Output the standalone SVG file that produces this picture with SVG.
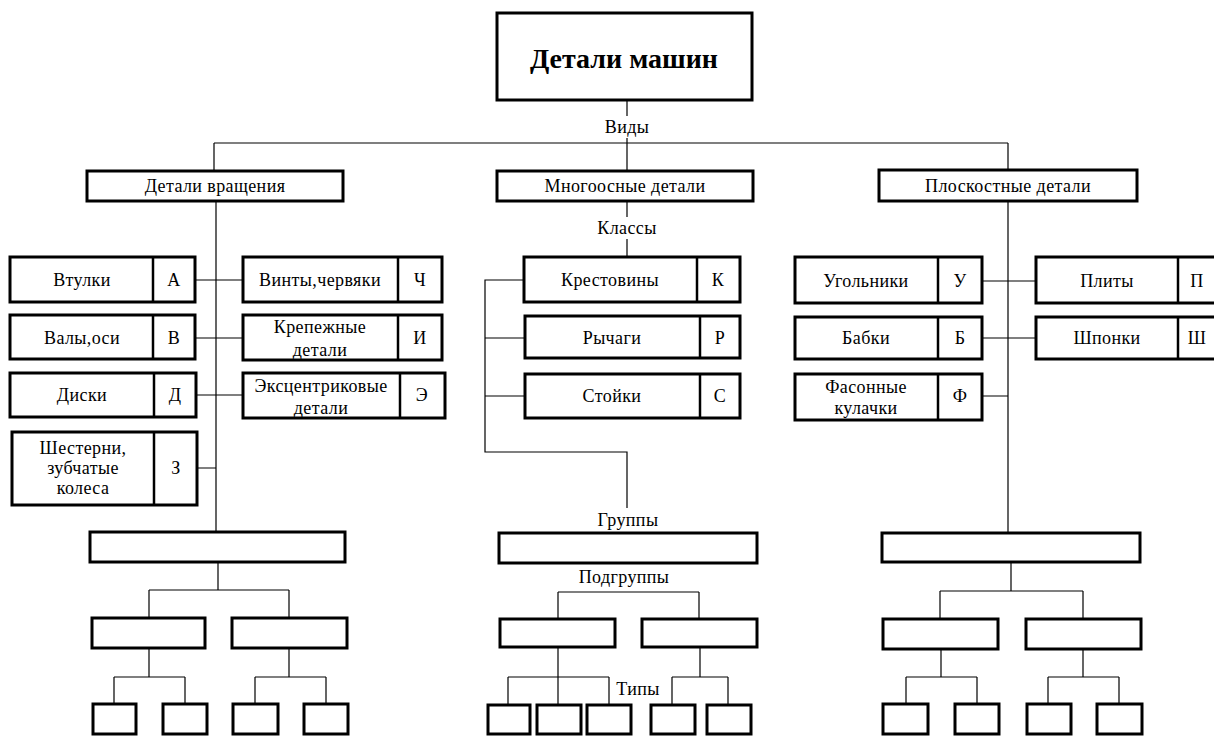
<svg xmlns="http://www.w3.org/2000/svg" width="1214" height="736" viewBox="0 0 1214 736">
<style>
.box{fill:#fff;stroke:#000;stroke-width:3}
.dv{stroke:#000;stroke-width:2.5}
.ln{stroke:#000;stroke-width:1.2;fill:none}
text{font-family:"Liberation Serif","Times New Roman",serif;font-size:18px;letter-spacing:0.4px;fill:#000;text-anchor:middle;dominant-baseline:central}
.title{font-size:28px;font-weight:bold;letter-spacing:0}
</style>
<rect width="1214" height="736" fill="#fff"/>
<g id="connectors">
<path class="ln" d="M627,100V116M627,138V171M214,143H1008M214,143V171M1008,143V170"/>
<path class="ln" d="M216,201V532M195,280H243M195,338H243M195,395H243M197,468H216"/>
<path class="ln" d="M218,562V590M149,590H289M149,590V618M289,590V618M149,648V677M114,677H185M114,677V704M185,677V704M289,648V677M255,677H326M255,677V704M326,677V704"/>
<path class="ln" d="M627,201V217M627,239V257M524,280H485V452H627V508M485,338H525M485,396H525"/>
<path class="ln" d="M558,592H699M558,592V619M699,592V619M558,647V677M508,677H609M508,677V705M558,677V705M609,677V705M700,647V677M672,677H728M672,677V705M728,677V705"/>
<path class="ln" d="M1008,201V532M982,281H1036M982,338H1036M982,396H1008M1011,562V591M940,591H1083M940,591V618M1083,591V618M941,649V677M906,677H977M906,677V704M977,677V704M1083,649V677M1048,677H1119M1048,677V704M1119,677V704"/>
</g>
<g id="labels">
<text x="627" y="127">Виды</text>
<text x="627" y="228">Классы</text>
<text x="628" y="520">Группы</text>
<text x="624" y="577">Подгруппы</text>
<text x="638" y="689">Типы</text>
</g>
<g id="root"><rect class="box" x="497" y="13" width="255" height="87"/><text class="title" x="624" y="58">Детали машин</text></g>
<g id="vrasch"><rect class="box" x="87" y="171" width="256" height="30"/><text x="215" y="186">Детали вращения</text></g>
<g id="mnogoos"><rect class="box" x="497" y="171" width="256" height="30"/><text x="625" y="186">Многоосные детали</text></g>
<g id="plosk"><rect class="box" x="879" y="170" width="258" height="31"/><text x="1008" y="186">Плоскостные детали</text></g>
<g id="vtulki"><rect class="box" x="10" y="257" width="185" height="45"/><line class="dv" x1="153" y1="257" x2="153" y2="302"/><text x="82" y="280">Втулки</text><text x="174" y="280">А</text></g>
<g id="valy"><rect class="box" x="10" y="315" width="185" height="44"/><line class="dv" x1="153" y1="315" x2="153" y2="359"/><text x="82" y="338">Валы,оси</text><text x="174" y="338">В</text></g>
<g id="diski"><rect class="box" x="10" y="373" width="186" height="44"/><line class="dv" x1="154" y1="373" x2="154" y2="417"/><text x="82" y="395">Диски</text><text x="175" y="395">Д</text></g>
<g id="shest"><rect class="box" x="12" y="432" width="185" height="73"/><line class="dv" x1="154" y1="432" x2="154" y2="505"/><text x="83" y="448">Шестерни,</text><text x="83" y="468">зубчатые</text><text x="83" y="488">колеса</text><text x="176" y="468">З</text></g>
<g id="vinty"><rect class="box" x="243" y="257" width="199" height="45"/><line class="dv" x1="398" y1="257" x2="398" y2="302"/><text x="320" y="280">Винты,червяки</text><text x="420" y="280">Ч</text></g>
<g id="krep"><rect class="box" x="243" y="315" width="199" height="45"/><line class="dv" x1="398" y1="315" x2="398" y2="360"/><text x="320" y="327">Крепежные</text><text x="320" y="350">детали</text><text x="420" y="338">И</text></g>
<g id="ekscentr"><rect class="box" x="243" y="373" width="202" height="45"/><line class="dv" x1="400" y1="373" x2="400" y2="418"/><text x="321" y="386">Эксцентриковые</text><text x="321" y="408">детали</text><text x="422" y="395">Э</text></g>
<g id="krest"><rect class="box" x="524" y="257" width="216" height="45"/><line class="dv" x1="697" y1="257" x2="697" y2="302"/><text x="610" y="280">Крестовины</text><text x="718" y="280">К</text></g>
<g id="rychagi"><rect class="box" x="525" y="316" width="215" height="42"/><line class="dv" x1="700" y1="316" x2="700" y2="358"/><text x="612" y="338">Рычаги</text><text x="720" y="338">Р</text></g>
<g id="stoyki"><rect class="box" x="525" y="374" width="215" height="44"/><line class="dv" x1="700" y1="374" x2="700" y2="418"/><text x="612" y="396">Стойки</text><text x="720" y="396">С</text></g>
<g id="ugolniki"><rect class="box" x="795" y="257" width="187" height="46"/><line class="dv" x1="938" y1="257" x2="938" y2="303"/><text x="866" y="281">Угольники</text><text x="960" y="281">У</text></g>
<g id="babki"><rect class="box" x="795" y="317" width="187" height="42"/><line class="dv" x1="938" y1="317" x2="938" y2="359"/><text x="866" y="338">Бабки</text><text x="960" y="338">Б</text></g>
<g id="fason"><rect class="box" x="795" y="374" width="187" height="46"/><line class="dv" x1="938" y1="374" x2="938" y2="420"/><text x="866" y="387">Фасонные</text><text x="866" y="408">кулачки</text><text x="960" y="396">Ф</text></g>
<g id="plity"><rect class="box" x="1036" y="257" width="184" height="46"/><line class="dv" x1="1178" y1="257" x2="1178" y2="303"/><text x="1107" y="281">Плиты</text><text x="1197" y="281">П</text></g>
<g id="shponki"><rect class="box" x="1036" y="317" width="184" height="42"/><line class="dv" x1="1178" y1="317" x2="1178" y2="359"/><text x="1107" y="338">Шпонки</text><text x="1197" y="338">Ш</text></g>
<g id="grp-left"><rect class="box" x="90" y="532" width="255" height="30"/></g>
<g id="sub-left-1"><rect class="box" x="92" y="618" width="113" height="30"/></g>
<g id="sub-left-2"><rect class="box" x="232" y="618" width="115" height="30"/></g>
<g id="type-left"><rect class="box" x="93" y="704" width="43" height="30"/><rect class="box" x="163" y="704" width="44" height="30"/><rect class="box" x="233" y="704" width="45" height="30"/><rect class="box" x="304" y="704" width="44" height="30"/></g>
<g id="grp-mid"><rect class="box" x="499" y="533" width="258" height="30"/></g>
<g id="sub-mid-1"><rect class="box" x="500" y="619" width="115" height="28"/></g>
<g id="sub-mid-2"><rect class="box" x="642" y="619" width="115" height="28"/></g>
<g id="type-mid"><rect class="box" x="488" y="705" width="42" height="29"/><rect class="box" x="537" y="705" width="44" height="29"/><rect class="box" x="587" y="705" width="44" height="29"/><rect class="box" x="651" y="705" width="44" height="29"/><rect class="box" x="707" y="705" width="44" height="29"/></g>
<g id="grp-right"><rect class="box" x="882" y="533" width="258" height="29"/></g>
<g id="sub-right-1"><rect class="box" x="883" y="619" width="115" height="30"/></g>
<g id="sub-right-2"><rect class="box" x="1026" y="619" width="115" height="30"/></g>
<g id="type-right"><rect class="box" x="883" y="704" width="45" height="30"/><rect class="box" x="955" y="704" width="44" height="30"/><rect class="box" x="1027" y="704" width="44" height="30"/><rect class="box" x="1097" y="704" width="45" height="30"/></g>
</svg>
